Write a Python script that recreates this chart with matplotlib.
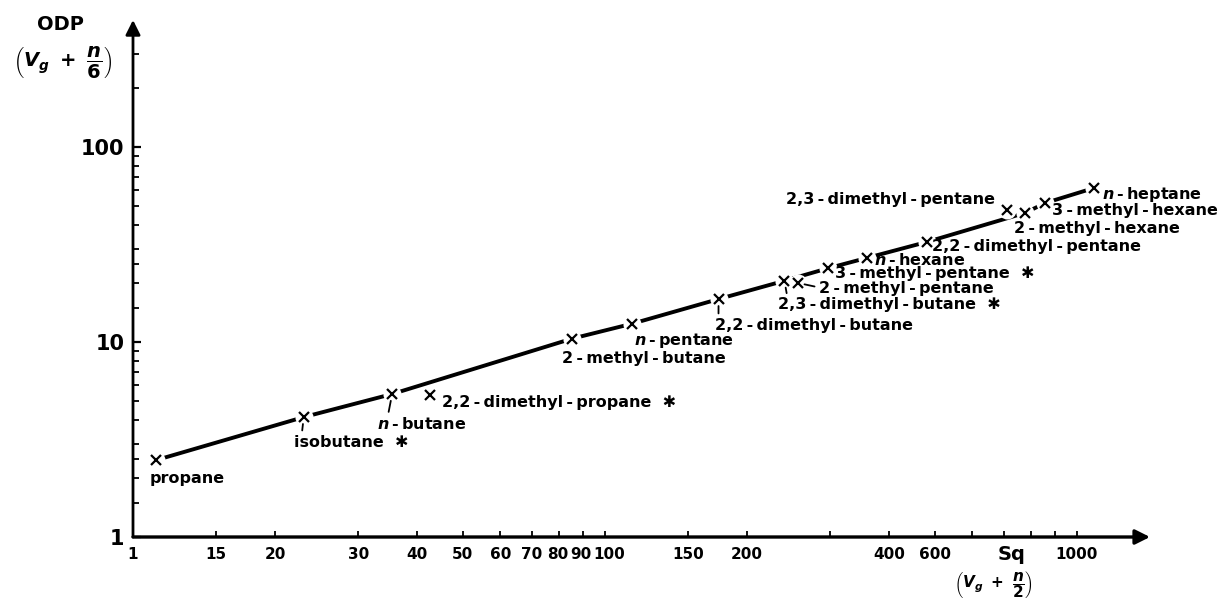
import numpy as np
import matplotlib
matplotlib.use('Agg')
import matplotlib.pyplot as plt
from matplotlib.ticker import FixedLocator, FixedFormatter, NullFormatter
from matplotlib.transforms import ScaledTranslation

plt.rcParams['font.family'] = ['DejaVu Sans']
plt.rcParams['font.weight'] = 'bold'
plt.rcParams['mathtext.fontset'] = 'custom'
plt.rcParams['mathtext.rm'] = 'DejaVu Sans:bold'
plt.rcParams['mathtext.it'] = 'DejaVu Sans:italic:bold'
plt.rcParams['mathtext.bf'] = 'DejaVu Sans:bold'

# values (both axes logarithmic)
compounds = ['propane', 'isobutane', 'n-butane', '2,2-dimethyl-propane',
             '2-methyl-butane', 'n-pentane', '2,2-dimethyl-butane',
             '2,3-dimethyl-butane', '2-methyl-pentane', '3-methyl-pentane',
             'n-hexane', '2,2-dimethyl-pentane', '2,3-dimethyl-pentane',
             '2-methyl-hexane', '3-methyl-hexane', 'n-heptane']
sq = [11.2, 23.0, 35.4, 42.6, 85.1, 114, 174, 240, 256, 297, 359, 481, 711, 776, 856, 1086]
odp = [2.48, 4.12, 5.41, 5.35, 10.4, 12.4, 16.6, 20.6, 20.1, 23.9, 27.0, 32.6, 47.5, 45.9, 51.6, 61.6]
starred = ['isobutane', '2,2-dimethyl-propane', '2,3-dimethyl-butane', '3-methyl-pentane']
off_line = ['2,2-dimethyl-propane', '2-methyl-pentane', '2,3-dimethyl-pentane']

x_ticks = [10, 15, 20, 30, 40, 50, 60, 70, 80, 90, 100, 150, 200, 400, 500, 1000]
# the scan labels the 500 position "600" and the origin "1"
x_ticklabels = ['1', '15', '20', '30', '40', '50', '60', '70', '80', '90', '100',
                '150', '200', '400', '600', '1000']
x_minor = [300, 600, 700, 800, 900]
y_ticks = [1, 10, 100]
y_minor = [1.5, 2, 2.5, 3, 4, 5, 6, 7, 8, 9,
           15, 20, 25, 30, 40, 50, 60, 70, 80, 90, 200, 300]

# label placement: (dx, dy) pixels from marker, alignment, leader relpos
label_pos = {
    'propane': (-7, -18, 'left', None),
    'isobutane': (-10, -25, 'left', (0.07, 1)),
    'n-butane': (-15, -30, 'left', (0.12, 1)),
    '2,2-dimethyl-propane': (12, -8, 'left', None),
    '2-methyl-butane': (-10, -20, 'left', None),
    'n-pentane': (2, -17, 'left', None),
    '2,2-dimethyl-butane': (-4, -26, 'left', (0.02, 1)),
    '2,3-dimethyl-butane': (-6, -24, 'left', (0.04, 1)),
    '2-methyl-pentane': (21, -6, 'left', (0, 0.6)),
    '3-methyl-pentane': (7, -5, 'left', None),
    'n-hexane': (7, -2, 'left', None),
    '2,2-dimethyl-pentane': (5, -5, 'left', None),
    '2,3-dimethyl-pentane': (-12, 11, 'right', None),
    '2-methyl-hexane': (-11, -16, 'left', None),
    '3-methyl-hexane': (7, -7, 'left', None),
    'n-heptane': (8, -6, 'left', None),
}


def pretty(name):
    s = name.replace('-', '\u2009-\u2009')
    if s.startswith('n\u2009'):
        s = '$n$' + s[1:]
    if name in starred:
        s += '  \u2731'
    return s


fig = plt.figure(figsize=(12.29, 5.99), dpi=100)
ax = fig.add_axes([133 / 1229, 62 / 599, (1150 - 133) / 1229, (537 - 20) / 599])
ax.set_xscale('log')
ax.set_yscale('log')
x_tip = 10 ** (1 + (1150 - 133) / 472)
ax.set_xlim(10, x_tip)
ax.set_ylim(1, 10 ** ((537 - 20) / 195))

for s in ax.spines.values():
    s.set_visible(False)
ax.annotate('', xy=(1, 0), xytext=(0, 0), xycoords='axes fraction',
            arrowprops=dict(arrowstyle='-|>', lw=2.4, color='k',
                            mutation_scale=22, shrinkA=0, shrinkB=0))
ax.annotate('', xy=(0, 1), xytext=(0, 0), xycoords='axes fraction',
            arrowprops=dict(arrowstyle='-|>', lw=2.0, color='k',
                            mutation_scale=22, shrinkA=0, shrinkB=0))

ax.xaxis.set_major_locator(FixedLocator(x_ticks))
ax.xaxis.set_major_formatter(FixedFormatter(x_ticklabels))
ax.xaxis.set_minor_locator(FixedLocator(x_minor))
ax.xaxis.set_minor_formatter(NullFormatter())
ax.yaxis.set_major_locator(FixedLocator(y_ticks))
ax.yaxis.set_major_formatter(FixedFormatter(['1', '10', '100']))
ax.yaxis.set_minor_locator(FixedLocator(y_minor))
ax.yaxis.set_minor_formatter(NullFormatter())
ax.tick_params(axis='x', which='both', direction='in', length=4, width=1.3, pad=7,
               labelsize=11)
ax.tick_params(axis='y', which='major', direction='in', length=6, width=1.6, pad=6,
               labelsize=15)
ax.tick_params(axis='y', which='minor', direction='in', length=4, width=1.3)

# nudge the crowded 80 / 90 / 100 labels apart, as they sit in the scan
nudge = {'80': -2, '90': -3, '100': 4}
for lab, txt in zip(ax.get_xticklabels(), x_ticklabels):
    if txt in nudge:
        lab.set_transform(lab.get_transform() +
                          ScaledTranslation(nudge[txt] / 100, 0, fig.dpi_scale_trans))

line_x = [x for c, x in zip(compounds, sq) if c not in off_line]
line_y = [y for c, y in zip(compounds, odp) if c not in off_line]
ax.plot(line_x, line_y, color='k', lw=2.8, solid_capstyle='butt', zorder=2)
ax.plot(sq, odp, ls='none', marker='o', ms=13, mfc='white', mec='none', zorder=3)
ax.plot(sq, odp, ls='none', marker='x', ms=6.5, mew=1.6, color='k', zorder=4)

for c, x, y in zip(compounds, sq, odp):
    dx, dy, ha, rel = label_pos[c]
    arrow = None
    if rel is not None:
        arrow = dict(arrowstyle='-', lw=1.3, color='k', shrinkA=1, shrinkB=5, relpos=rel)
    ax.annotate(pretty(c), xy=(x, y), xytext=(dx, dy), textcoords='offset pixels',
                ha=ha, va='center', fontsize=11.5, fontweight='bold',
                arrowprops=arrow, zorder=5)

fig.text(60 / 1229, 1 - 25 / 599, 'ODP', ha='center', va='center', fontsize=14)
fig.text(63 / 1229, 1 - 62 / 599, r'$\left(V_g\ +\ \dfrac{n}{6}\right)$',
         ha='center', va='center', fontsize=14)
fig.text(1012 / 1229, 1 - 555 / 599, 'Sq', ha='center', va='center', fontsize=14)
fig.text(993 / 1229, 1 - 585 / 599, r'$\left(V_g\ +\ \dfrac{n}{2}\right)$',
         ha='center', va='center', fontsize=11)

fig.savefig('out.png', dpi=100)
